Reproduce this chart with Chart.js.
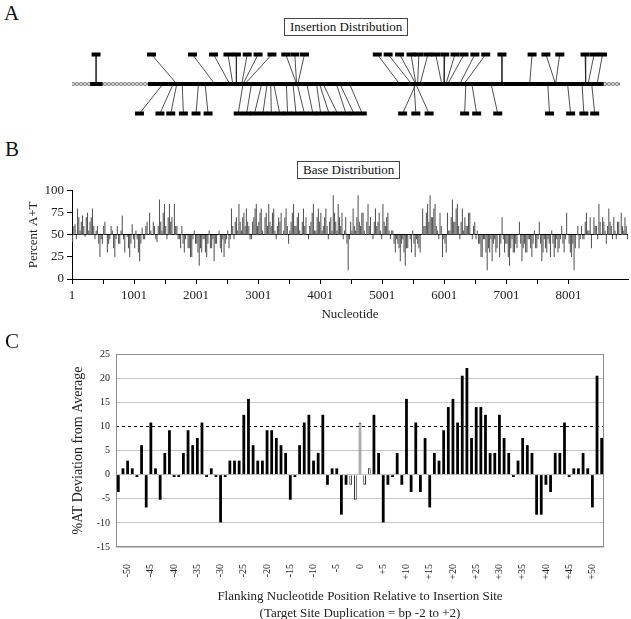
<!DOCTYPE html>
<html>
<head>
<meta charset="utf-8">
<script src="https://cdn.jsdelivr.net/npm/chart.js@4.4.1/dist/chart.umd.min.js"></script>
<style>
  body { margin: 0; background: #fff; }
  #page { position: relative; width: 631px; height: 619px; overflow: hidden;
          font-family: "Liberation Serif", "Times New Roman", serif; color: #111; }
  .letter { position: absolute; font-size: 21px; line-height: 21px; }
  .boxed { position: absolute; border: 1px solid #444; font-size: 13px; line-height: 14px;
           padding: 1px 5px; white-space: nowrap; background: #fff; }
  canvas { position: absolute; left: 0; }
</style>
</head>
<body>
<div id="page">
  <canvas id="chartA" width="631" height="94" style="top:37px"></canvas>
  <canvas id="chartB" width="631" height="150" style="top:180px"></canvas>
  <canvas id="chartC" width="631" height="292" style="top:330px"></canvas>

  <div class="letter" style="left:4px;top:3px">A</div>
  <div class="boxed" style="left:284px;top:18px">Insertion Distribution</div>
  <div class="letter" style="left:5px;top:139px">B</div>
  <div class="boxed" style="left:297px;top:161px">Base Distribution</div>
  <div class="letter" style="left:5px;top:331px">C</div>
</div>

<script>
var serif = '"Liberation Serif", "Times New Roman", serif';
Chart.defaults.font.family = serif;
Chart.defaults.color = '#222';
Chart.defaults.animation = false;

// ---- panel A : insertion sites along the element (bp) ----
var insertTopAt   = [400, 1320, 2000, 2350, 2590, 2730, 2910, 3090, 3320, 3550, 3700, 3860,
                     5070, 5250, 5440, 5630, 5760, 5910, 6040, 6190, 6360, 6510, 6690, 6870,
                     7140, 7640, 7870, 8100, 8520, 8670, 8810];
var insertTopSite = [400, 1740, 2370, 2620, 2670, 2730, 2820, 2840, 2870, 3730, 3730, 3750,
                     5440, 5640, 5710, 5710, 5740, 5780, 6140, 6180, 6210, 6240, 6440, 6510,
                     7140, 7600, 8030, 8030, 8530, 8570, 8720];
var insertBottomAt   = [1120, 1460, 1640, 1850, 2060, 2260, 2760, 2900, 3030, 3170, 3310, 3450,
                        3580, 3720, 3860, 4000, 4130, 4270, 4410, 4550, 4680, 4820, 5490, 5710,
                        5930, 6520, 6720, 7070, 7930, 8280, 8500, 8680];
var insertBottomSite = [1510, 1680, 1740, 1830, 2100, 2210, 2840, 2980, 3150, 3240, 3300, 3350,
                        3560, 3670, 3740, 3900, 4060, 4110, 4170, 4390, 4450, 4610, 5710, 5680,
                        5710, 6540, 6640, 6960, 7900, 8230, 8470, 8630];
var mapFrom      = [0, 300, 510, 1260, 8830];
var mapTo        = [300, 510, 1260, 8830, 9100];
var mapIsElement = [false, true, false, true, false];

// ---- panel B : percent A+T in 20 bp windows ----
var windowStart = 1;
var windowSize = 20;
var percentAT = [
  42, 60, 62, 45, 80, 70, 55, 65, 72, 60, 48, 70, 75, 55, 65, 70, 80, 60,
  45, 55, 60, 40, 25, 45, 40, 60, 65, 50, 30, 40, 45, 60,
  55, 35, 25, 45, 60, 40, 40, 55, 72, 45, 30, 50, 48, 35, 25, 40, 62, 45, 35, 55, 45, 30, 20, 40, 58, 45,
  45, 60, 65, 50, 75, 55, 50, 65, 60, 45, 42, 60,
  90, 65, 55, 75, 85, 60, 45, 70, 85, 65, 70, 50, 85, 60, 60, 45,
  45, 35, 60, 40, 30, 45, 50, 35, 35, 25, 25, 45, 55, 40, 40, 30, 15, 35, 30, 45, 45, 30,
  25, 40, 55, 35, 35, 45, 20, 40, 40, 50, 55, 35, 30, 45, 25, 40, 45, 55, 35, 45,
  80, 60, 45, 65, 70, 55, 85, 65, 55, 70, 75, 60, 80, 65, 60, 45, 45, 65, 70, 80, 85, 60,
  65, 75, 80, 55, 50, 70, 75, 60, 85, 65, 60, 75, 80, 55, 45, 60, 70, 65, 75, 50, 55, 70,
  80, 60, 40, 55, 65, 75, 85, 60, 60, 70, 75, 55, 50, 65, 80, 60, 70, 50, 45, 60, 65, 75,
  85, 55, 55, 70, 80, 65, 75, 55, 60, 70, 80, 60, 45, 65, 70, 55, 95, 75, 65, 55, 85, 70,
  60, 75, 45, 55, 70, 40, 10, 45, 65, 55, 80, 60, 55, 70, 95, 65, 60, 75, 75, 55,
  50, 65, 85, 60, 70, 50, 45, 65, 80, 60, 65, 75, 55, 45, 85, 65, 60, 70, 75, 55,
  45, 55, 55, 40, 30, 45, 40, 35, 20, 40, 45, 30, 15, 35, 35, 50, 45, 30, 55, 40, 25, 45, 40, 35, 30, 50,
  80, 60, 60, 75, 85, 65, 95, 70, 70, 80, 85, 60, 55, 45, 75, 60,
  25, 45, 40, 30,
  75, 55, 55, 70, 90, 65, 65, 80, 85, 60, 45, 65, 80, 55, 70, 60, 60, 75, 75, 50, 45, 60, 65, 45, 55, 40,
  40, 25, 25, 45, 45, 30, 10, 35, 30, 45, 20, 40, 45, 30, 35, 50, 25, 40, 70, 45,
  30, 40, 40, 25, 15, 35, 45, 30, 30, 40, 35, 50, 65, 40, 20, 35, 40, 30, 30, 45,
  45, 35, 25, 40, 55, 35, 35, 45, 65, 40, 20, 30, 45, 35, 30, 45, 40, 25, 55, 40,
  25, 35, 45, 30, 35, 45, 60, 40, 30, 45, 75, 50, 40, 30, 25, 40, 10, 35, 50, 60, 35, 45,
  60, 45, 45, 65, 75, 55, 55, 70, 35, 50, 70, 60, 60, 45, 85, 65, 50, 70, 65, 55,
  40, 60, 80, 65, 60, 45, 70, 55, 45, 65, 65, 50, 75, 60, 55, 70, 60, 45
];
var nucleotideTicks = [1, 501, 1001, 1501, 2001, 2501, 3001, 3501, 4001, 4501, 5001, 5501,
                       6001, 6501, 7001, 7501, 8001];
var percentTicks = [0, 12.5, 25, 37.5, 50, 62.5, 75, 87.5, 100];
var percentMid = 50;

// ---- panel C : %AT deviation by flanking position ----
var flankFirst = -52;
var flankLast = 52;
var atDeviation = [
  -3.6, 1.3, 2.9, 1.3, -0.5, 6.1, -6.8, 10.8, 1.3, -5.2,
  4.5, 9.2, -0.5, -0.5, 4.5, 9.2, 6.1, 7.6, 10.8, -0.5,
  1.3, -0.5, -9.9, -0.5, 2.9, 2.9, 2.9, 12.4, 15.7, 6.1,
  2.9, 2.9, 9.2, 9.2, 7.6, 6.1, 4.5, -5.2, -0.5, 6.1,
  10.8, 12.4, 2.9, 4.5, 12.4, -2.1, 1.3, 1.3, -8.3, -2.1,
  -2.1, -5.2, 10.8, -2.1, 1.3,
  12.4, 4.5, -9.9, -2.1, -0.5, 4.5, -2.1, 15.7, -3.6, 10.8,
  -3.6, 7.6, -6.8, 4.5, 2.9, 9.2, 14.0, 15.7, 10.8, 20.5,
  22.1, 7.6, 14.0, 14.0, 12.4, 4.5, 4.5, 12.4, 7.6, 4.5,
  -0.5, 2.9, 7.6, 6.1, 4.5, -8.3, -8.3, -2.1, -3.6, 4.5,
  4.5, 10.8, -0.5, 1.3, 1.3, 4.5, 1.3, -6.8, 20.5, 7.6
];
var duplicatedSite = [-2, -1, 0, 1, 2];
var deviationCutoff = 10;


// grey stipple used for the flanking DNA in panel A
var stipple = document.createElement('canvas');
stipple.width = 4;
stipple.height = 4;
var sc = stipple.getContext('2d');
sc.fillStyle = '#d2d2d2';
sc.fillRect(0, 0, 4, 4);
sc.fillStyle = '#8c8c8c';
sc.fillRect(0, 0, 2, 2);
sc.fillRect(2, 2, 2, 2);
var flankPattern = sc.createPattern(stipple, 'repeat');

var setA = [];
setA.push({
    data: insertTopAt.map(function (x) { return {x: x, y: 1}; })
        .concat(insertBottomAt.map(function (x) { return {x: x, y: -1}; })),
    showLine: false,
    pointStyle: 'line',
    pointRadius: 4.5,
    pointBorderWidth: 4,
    pointBorderColor: '#000',
    pointBackgroundColor: '#000'
});
for (var s = 0; s < mapFrom.length; s++) {
    setA.push({
        data: [{x: mapFrom[s], y: 0}, {x: mapTo[s], y: 0}],
        showLine: true,
        borderColor: mapIsElement[s] ? '#000' : flankPattern,
        borderWidth: 4,
        borderCapStyle: 'butt',
        pointRadius: 0
    });
}
function connector(from, to, level) {
    return {
        data: [{x: from, y: level}, {x: to, y: 0}],
        showLine: true,
        borderColor: '#222',
        borderWidth: 0.8,
        pointRadius: 0
    };
}
for (var i = 0; i < insertTopAt.length; i++) {
    setA.push(connector(insertTopAt[i], insertTopSite[i], 1));
}
for (var j = 0; j < insertBottomAt.length; j++) {
    setA.push(connector(insertBottomAt[j], insertBottomSite[j], -1));
}

new Chart(document.getElementById('chartA'), {
    type: 'scatter',
    data: {datasets: setA},
    options: {
        responsive: false,
        layout: {padding: {left: 72, right: 11, top: 0, bottom: 0}},
        plugins: {legend: {display: false}, tooltip: {enabled: false}},
        scales: {
            x: {type: 'linear', display: false, min: 0, max: 9100},
            y: {type: 'linear', display: false, min: -1.3, max: 1.3}
        }
    }
});


// ---- panel B ----
new Chart(document.getElementById('chartB'), {
    type: 'bar',
    data: {
        datasets: [{
            data: percentAT.map(function (v, k) {
                return {x: windowStart + windowSize * k + windowSize / 2, y: [percentMid, v]};
            }),
            backgroundColor: '#555555',
            barPercentage: 0.85,
            categoryPercentage: 1
        }]
    },
    options: {
        responsive: false,
        layout: {padding: {left: 22, right: 3, top: 9, bottom: 4}},
        plugins: {legend: {display: false}, tooltip: {enabled: false}},
        scales: {
            x: {
                type: 'linear',
                min: 1,
                max: 8960,
                offset: false,
                afterBuildTicks: function (axis) {
                    axis.ticks = nucleotideTicks.map(function (v) { return {value: v}; });
                },
                afterFit: function (axis) { axis.height = 47; },
                ticks: {
                    autoSkip: false,
                    maxRotation: 0,
                    padding: 4,
                    font: {size: 13},
                    callback: function (v) { return (v - 1) % 1000 === 0 ? v : ''; }
                },
                grid: {offset: false, drawOnChartArea: false, tickLength: 5, color: '#000'},
                border: {color: '#000'},
                title: {display: true, text: 'Nucleotide', font: {size: 13}}
            },
            y: {
                min: 0,
                max: 100,
                afterBuildTicks: function (axis) {
                    axis.ticks = percentTicks.map(function (v) { return {value: v}; });
                },
                afterFit: function (axis) { axis.width = 50; },
                ticks: {
                    padding: 3,
                    font: {size: 13},
                    callback: function (v) { return v % 25 === 0 ? v : ''; }
                },
                grid: {
                    color: function (c) {
                        return c.tick && c.tick.value === percentMid ? '#000' : 'rgba(0,0,0,0)';
                    },
                    tickColor: '#000',
                    tickLength: 5
                },
                border: {color: '#000'},
                title: {display: true, text: 'Percent A+T', font: {size: 13}}
            }
        }
    }
});


// ---- panel C ----
var flankPositions = [];
for (var p = flankFirst; p <= flankLast; p++) {
    flankPositions.push(p);
}
function isDuplicated(pos) {
    return duplicatedSite.indexOf(pos) >= 0;
}

var panelCFrame = {
    id: 'panelCFrame',
    beforeDatasetsDraw: function (chart) {
        var ctx = chart.ctx;
        var a = chart.chartArea;
        var y = Math.round(chart.scales.y.getPixelForValue(deviationCutoff)) + 0.5;
        ctx.save();
        ctx.strokeStyle = '#000';
        ctx.lineWidth = 1;
        ctx.setLineDash([3, 3]);
        ctx.beginPath();
        ctx.moveTo(a.left, y);
        ctx.lineTo(a.right, y);
        ctx.stroke();
        ctx.setLineDash([]);
        ctx.strokeStyle = '#8c8c8c';
        ctx.strokeRect(Math.round(a.left) + 0.5, Math.round(a.top) + 0.5,
            Math.round(a.right - a.left) - 1, Math.round(a.bottom - a.top) - 1);
        ctx.restore();
    }
};

new Chart(document.getElementById('chartC'), {
    type: 'bar',
    data: {
        labels: flankPositions,
        datasets: [{
            data: atDeviation,
            backgroundColor: flankPositions.map(function (q) { return isDuplicated(q) ? '#fff' : '#000'; }),
            borderColor: flankPositions.map(function (q) { return isDuplicated(q) ? '#222' : '#000'; }),
            borderWidth: flankPositions.map(function (q) { return isDuplicated(q) ? 1 : 0; }),
            barPercentage: 0.6,
            categoryPercentage: 1
        }]
    },
    plugins: [panelCFrame],
    options: {
        responsive: false,
        layout: {padding: {left: 66, right: 27, top: 24, bottom: 0}},
        plugins: {legend: {display: false}, tooltip: {enabled: false}},
        scales: {
            x: {
                afterFit: function (axis) { axis.height = 75; },
                grid: {display: false},
                border: {display: false},
                ticks: {
                    autoSkip: false,
                    minRotation: 90,
                    maxRotation: 90,
                    padding: 9,
                    font: {size: 10},
                    callback: function (v, idx) {
                        var q = flankPositions[idx];
                        if (q % 5 !== 0 || Math.abs(q) > 50) {
                            return '';
                        }
                        return q > 0 ? '+' + q : String(q);
                    }
                },
                title: {
                    display: true,
                    text: ['Flanking Nucleotide Position Relative to Insertion Site',
                           '(Target Site Duplication = bp -2 to +2)'],
                    font: {size: 13, lineHeight: 1.3},
                    padding: {top: 0, bottom: 0}
                }
            },
            y: {
                min: -15,
                max: 25,
                afterFit: function (axis) { axis.width = 50; },
                ticks: {stepSize: 5, padding: 6, font: {size: 10}},
                grid: {
                    drawTicks: false,
                    color: function (c) {
                        return c.tick && c.tick.value === deviationCutoff ? 'rgba(0,0,0,0)' : '#c6c6c6';
                    }
                },
                border: {display: false},
                title: {display: true, text: '%AT Deviation from Average', font: {size: 14}}
            }
        }
    }
});
</script>
</body>
</html>
